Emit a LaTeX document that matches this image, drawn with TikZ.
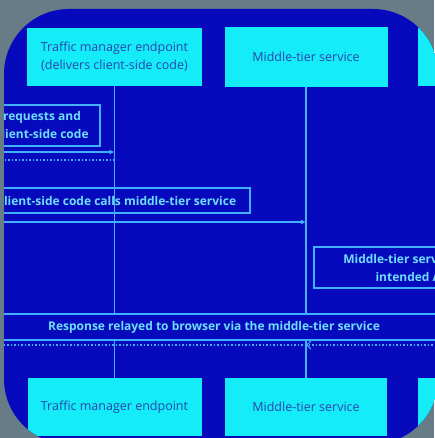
\documentclass[tikz,border=0pt]{standalone}
\usepackage{fontspec}
\setmainfont{Open Sans}
\usetikzlibrary{arrows.meta,positioning}
\definecolor{fondo}{RGB}{104,124,136}
\definecolor{azul}{RGB}{6,10,188}
\definecolor{cian}{RGB}{20,236,250}
\definecolor{linea}{RGB}{64,176,255}
\definecolor{texto}{RGB}{110,222,255}
\definecolor{tinta}{RGB}{40,70,170}

\begin{document}
\begin{tikzpicture}[x=1pt,y=-1pt,>=latex,
  actor/.style={fill=cian,minimum width=175pt,minimum height=58pt,align=center,
    text=tinta,font=\fontsize{12.5}{18}\selectfont},
  nota/.style={draw=linea,line width=1.5pt,align=center,text=texto,
    font=\bfseries\fontsize{12}{18}\selectfont},
  vida/.style={draw=linea,line width=1.2pt},
  msg/.style={draw=linea,line width=1.2pt,-{Latex[length=5pt,width=5pt]}},
  ret/.style={draw=linea,line width=1.2pt,dash pattern=on 1.5pt off 2pt}]

  % Marco redondeado
  \useasboundingbox (0,0) rectangle (434,438);
  \fill[fondo] (0,0) rectangle (434,438);
  \clip[rounded corners=65pt] (4,9) rectangle (438,444);
  \fill[azul] (0,0) rectangle (440,446);

  % Participantes (arriba)
  \node[actor] (tm) at (114.5,57) {Traffic manager endpoint\\(delivers client-side code)};
  \node[actor,minimum width=163pt,minimum height=60pt] (mt) at (306,57) {Middle-tier service};
  \node[actor,anchor=north west,align=left,inner xsep=11pt] (api) at (418,28) {\mbox{}\\(};

  % Participantes (abajo)
  \node[actor,minimum width=174pt] (tmb) at (114.5,407) {Traffic manager endpoint};
  \node[actor,minimum width=162pt] (mtb) at (306,407) {Middle-tier service};
  \node[actor,anchor=north west] (apib) at (418,378) {};

  % Líneas de vida
  \draw[vida] (tm) -- (tmb);
  \draw[vida] (mt) -- (mtb);

  % Mensajes
  \node[nota,minimum width=116pt,minimum height=41pt] (n1) at (42,125.5) {requests and\\client-side code};
  \coordinate (m1) at (-10,152);
  \draw[msg] (m1) -- (m1 -| tm);
  \coordinate (r1) at (-10,160);
  \draw[ret,->] (r1 -| tm) -- (r1);

  \node[nota,minimum width=266pt,minimum height=25pt] (n2) at (117,200.5) {client-side code calls middle-tier service};
  \coordinate (m2) at (-10,222);
  \draw[msg] (m2) -- (m2 -| mt);

  \node[nota,minimum width=200pt,minimum height=41pt] (n3) at (414,267.5) {Middle-tier service calls\\intended API};

  \node[nota,fill=azul,minimum width=460pt,minimum height=26pt] (n4) at (214,327) {Response relayed to browser via the middle-tier service};
  \coordinate (r2) at (450,345);
  \coordinate (r3) at (-10,345);
  \draw[ret,-{Straight Barb[length=4pt]}] (r2) -- (r2 -| mt);
  \draw[ret] (r2 -| mt) -- (r3);
\end{tikzpicture}
\end{document}
